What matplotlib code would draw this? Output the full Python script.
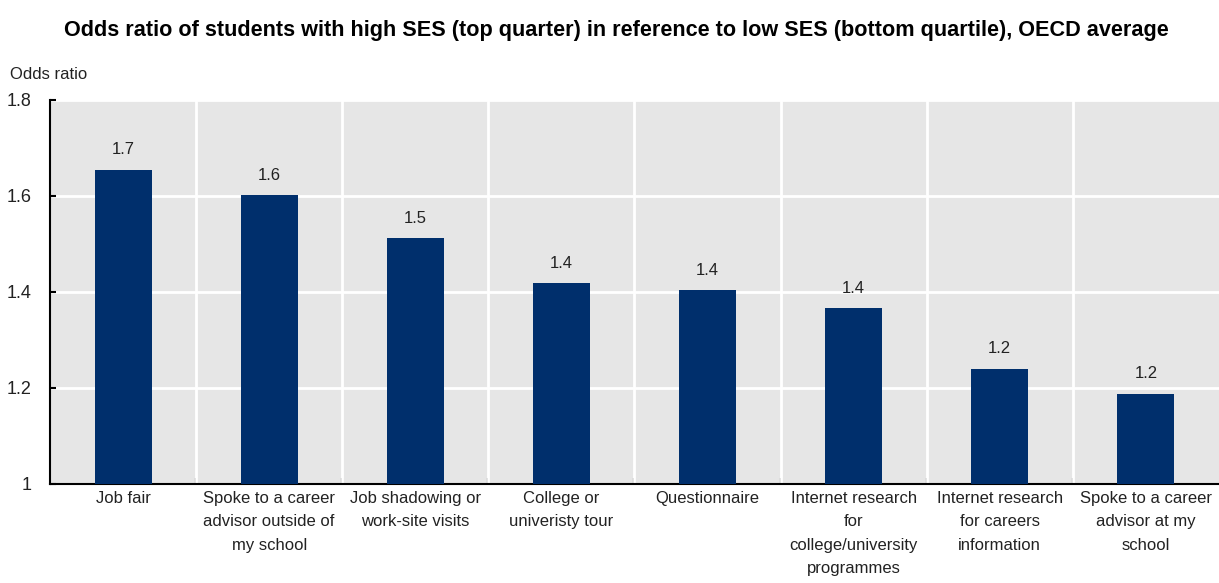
import matplotlib.pyplot as plt
from matplotlib.ticker import FixedLocator, NullFormatter

plt.rcParams['font.family'] = ['Liberation Sans', 'DejaVu Sans']

# Activités d'orientation et odds ratios (moyenne OCDE)
categories = [
    "Job fair",
    "Spoke to a career\nadvisor outside of\nmy school",
    "Job shadowing or\nwork-site visits",
    "College or\nuniveristy tour",
    "Questionnaire",
    "Internet research\nfor\ncollege/university\nprogrammes",
    "Internet research\nfor careers\ninformation",
    "Spoke to a career\nadvisor at my\nschool",
]
odds_ratio = [1.655, 1.602, 1.512, 1.418, 1.403, 1.366, 1.240, 1.188]
y_ticks = [1.0, 1.2, 1.4, 1.6, 1.8]
y_tick_labels = ["1", "1.2", "1.4", "1.6", "1.8"]

bleu = "#002F6C"
fond = "#E6E6E6"
texte = "#222222"

fig = plt.figure(figsize=(12.19, 5.83), dpi=100)
ax = fig.add_axes([0.041, 0.170, 0.959, 0.6585])
ax.set_facecolor(fond)

x = range(len(categories))
ax.bar(x, odds_ratio, width=0.39, color=bleu, zorder=3)

# Étiquettes de valeur au-dessus des barres
for xi, v in zip(x, odds_ratio):
    ax.text(xi, v + 0.026, f"{v:.1f}", ha="center", va="bottom",
            fontsize=12, color=texte)

ax.set_xlim(-0.5, len(categories) - 0.5)
ax.set_ylim(1.0, 1.8)

# Grille blanche : horizontales aux graduations, verticales entre catégories
ax.set_yticks(y_ticks)
ax.set_yticklabels(y_tick_labels, fontsize=13, color=texte)
ax.yaxis.grid(True, color="white", linewidth=2, zorder=1)
for b in [i + 0.5 for i in range(len(categories) - 1)]:
    ax.axvline(b, color="white", linewidth=2, zorder=1)
ax.set_axisbelow(True)

ax.xaxis.set_major_locator(FixedLocator([i + 0.5 for i in range(len(categories) - 1)]))
ax.xaxis.set_major_formatter(NullFormatter())
ax.xaxis.set_minor_locator(FixedLocator(list(x)))
ax.set_xticklabels(categories, minor=True, fontsize=12, color=texte,
                   linespacing=1.7, va="top")
ax.tick_params(axis="x", which="minor", length=0, pad=5)
ax.tick_params(axis="x", which="major", direction="in", length=4, width=1.5,
               color="black")
ax.tick_params(axis="y", direction="in", length=4, width=1.5, color="black",
               pad=13.5)

for s in ["top", "right"]:
    ax.spines[s].set_visible(False)
for s in ["left", "bottom"]:
    ax.spines[s].set_color("black")
    ax.spines[s].set_linewidth(1.5)

fig.text(0.008, 0.872, "Odds ratio", fontsize=12, color=texte,
         ha="left", va="center")
fig.suptitle("Odds ratio of students with high SES (top quarter) in reference "
             "to low SES (bottom quartile), OECD average",
             x=0.506, y=0.948, va="center", fontsize=15.6, fontweight="bold",
             color="black")

fig.savefig("out.png", dpi=100)
